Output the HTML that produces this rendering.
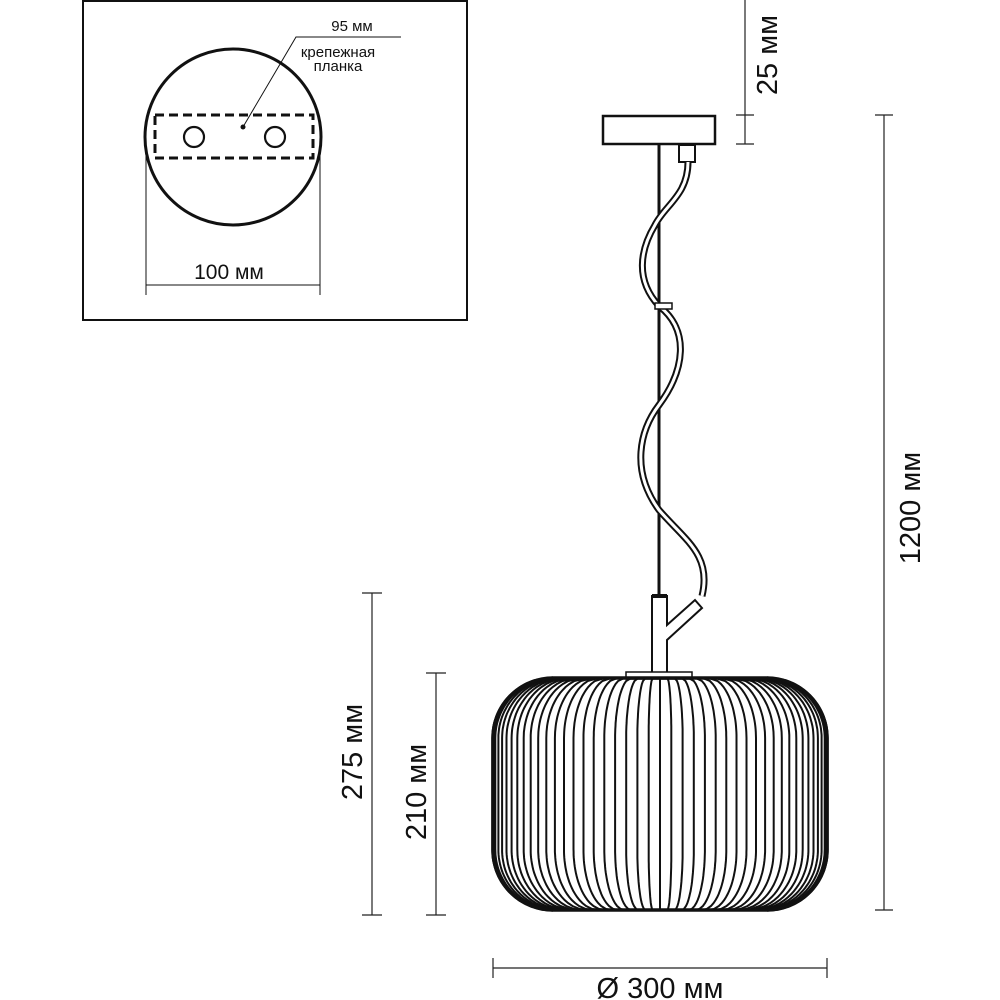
<!DOCTYPE html>
<html><head><meta charset="utf-8"><style>
html,body{margin:0;padding:0;background:#fff;width:1000px;height:1000px;overflow:hidden}
svg{display:block}
text{font-family:"Liberation Sans","DejaVu Sans",sans-serif;fill:#111}
</style></head><body>
<svg id="s" width="1000" height="1000" viewBox="0 0 1000 1000" xmlns="http://www.w3.org/2000/svg">
<rect x="0" y="0" width="1000" height="1000" fill="#fff"/>
<rect x="83" y="1" width="384" height="319" fill="none" stroke="#111" stroke-width="2"/>
<circle cx="233" cy="137" r="88" fill="none" stroke="#111" stroke-width="3"/>
<rect x="155" y="115" width="158" height="43" fill="none" stroke="#111" stroke-width="3" stroke-dasharray="9,5"/>
<circle cx="194" cy="137" r="10" fill="none" stroke="#111" stroke-width="2.2"/>
<circle cx="275" cy="137" r="10" fill="none" stroke="#111" stroke-width="2.2"/>
<circle cx="243" cy="127" r="2.5" fill="#111"/>
<polyline points="243,127 296,37 401,37" fill="none" stroke="#111" stroke-width="1"/>
<text x="352" y="31" font-size="15" text-anchor="middle">95 мм</text>
<text x="338" y="57" font-size="15" text-anchor="middle">крепежная</text>
<text x="338" y="71" font-size="15" text-anchor="middle">планка</text>
<line x1="146" y1="140" x2="146" y2="295" stroke="#111" stroke-width="1"/>
<line x1="320" y1="140" x2="320" y2="295" stroke="#111" stroke-width="1"/>
<line x1="146" y1="285" x2="320" y2="285" stroke="#111" stroke-width="1"/>
<text x="229" y="279" font-size="21" text-anchor="middle">100 мм</text>

<rect x="603" y="116" width="112" height="28" fill="#fff" stroke="#111" stroke-width="2.5"/>
<rect x="679" y="145" width="16" height="17" fill="#fff" stroke="#111" stroke-width="2"/>
<line x1="659" y1="144" x2="659" y2="596" stroke="#111" stroke-width="3"/>
<path d="M688,162 C688,195 665,205 655,225 C640,250 635,280 659,306 C690,330 685,370 659,405 C640,430 630,470 659,510 C685,540 712,555 702,596" fill="none" stroke="#111" stroke-width="7"/>
<path d="M688,162 C688,195 665,205 655,225 C640,250 635,280 659,306 C690,330 685,370 659,405 C640,430 630,470 659,510 C685,540 712,555 702,596" fill="none" stroke="#fff" stroke-width="3"/>
<rect x="655" y="303" width="17" height="6" fill="#fff" stroke="#111" stroke-width="1.5"/>
<path d="M652,596 L667,596 L667,625 L695,600 L702,608 L667,640 L667,673 L652,673 Z" fill="#fff" stroke="#111" stroke-width="2"/>
<rect x="652" y="594" width="15" height="4" fill="#111"/>
<rect x="626" y="672" width="66" height="7" fill="#fff" stroke="#111" stroke-width="1.5"/>
<g id="shade"></g>

<g stroke="#222" stroke-width="1.2">
<line x1="884" y1="115" x2="884" y2="910"/><line x1="875" y1="115" x2="893" y2="115"/><line x1="875" y1="910" x2="893" y2="910"/>
<line x1="745" y1="0" x2="745" y2="144"/><line x1="736" y1="115" x2="754" y2="115"/><line x1="736" y1="144" x2="754" y2="144"/>
<line x1="372" y1="593" x2="372" y2="915"/><line x1="362" y1="593" x2="382" y2="593"/><line x1="362" y1="915" x2="382" y2="915"/>
<line x1="436" y1="673" x2="436" y2="915"/><line x1="426" y1="673" x2="446" y2="673"/><line x1="426" y1="915" x2="446" y2="915"/>
<line x1="493" y1="968" x2="827" y2="968"/><line x1="493" y1="958" x2="493" y2="978"/><line x1="827" y1="958" x2="827" y2="978"/>
</g>
<text transform="translate(920,508) rotate(-90)" font-size="29" text-anchor="middle">1200 мм</text>
<text transform="translate(777,55) rotate(-90)" font-size="29" text-anchor="middle">25 мм</text>
<text transform="translate(362,752) rotate(-90)" font-size="29" text-anchor="middle">275 мм</text>
<text transform="translate(426,792) rotate(-90)" font-size="29" text-anchor="middle">210 мм</text>
<text x="660" y="998" font-size="29" text-anchor="middle">Ø 300 мм</text>
</svg>
<script>
(function(){
var g=document.getElementById('shade'),ns='http://www.w3.org/2000/svg';
var cx=660,top=678,bot=910,R=60,H=167;
function W(y){var d=Math.min(y-top,bot-y);if(d>=R)return H;var a=R-d;return H-R+Math.sqrt(Math.max(0,R*R-a*a));}
var N=42;
for(var i=0;i<=N;i++){var th=-Math.PI/2+Math.PI*i/N;var s=Math.sin(th);var u=0.75*s+0.25*(2*i/N-1);
 var pts=[];for(var y=top;y<=bot;y+=3){pts.push((cx+u*W(y)).toFixed(1)+','+y);}
 pts.push((cx+u*W(bot)).toFixed(1)+','+bot);
 var p=document.createElementNS(ns,'polyline');p.setAttribute('points',pts.join(' '));
 p.setAttribute('fill','none');p.setAttribute('stroke','#111');p.setAttribute('stroke-width',(i==0||i==N)?3.5:2);g.appendChild(p);}
var r=document.createElementNS(ns,'rect');r.setAttribute('x',cx-H);r.setAttribute('y',top);r.setAttribute('width',2*H);r.setAttribute('height',bot-top);r.setAttribute('rx',R);r.setAttribute('ry',R);r.setAttribute('fill','none');r.setAttribute('stroke','#111');r.setAttribute('stroke-width','3.5');g.appendChild(r);
})();
</script>
</body></html>
